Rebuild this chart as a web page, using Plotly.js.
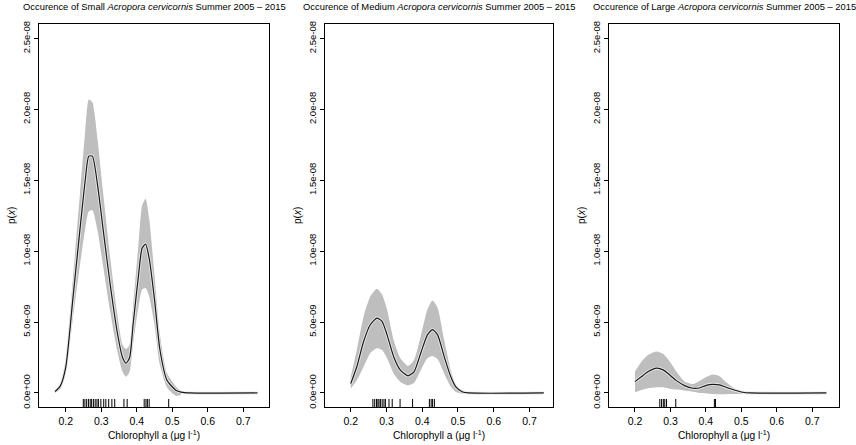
<!DOCTYPE html>
<html>
<head>
<meta charset="utf-8">
<script src="https://cdn.plot.ly/plotly-3.0.1.min.js"></script>
<style>html,body{margin:0;padding:0;background:#fff;}#chart{width:856px;height:445px;}</style>
</head>
<body>
<div id="chart"></div>
<script>
// ---------- Data ----------
const panelTitles = ["Small", "Medium", "Large"];

// Panel 1: Small
const x1 = [0.17,0.185,0.20,0.22,0.24,0.255,0.265,0.275,0.29,0.305,0.325,0.345,0.36,0.37,0.38,0.39,0.405,0.415,0.425,0.435,0.45,0.465,0.485,0.51,0.525];
const mean1 = [0.1e-9,0.5e-9,1.8e-9,6.6e-9,11.5e-9,15.0e-9,16.7e-9,16.7e-9,14.6e-9,11.6e-9,7.7e-9,4.3e-9,2.5e-9,2.1e-9,2.5e-9,4.9e-9,8.3e-9,10.2e-9,10.5e-9,9.5e-9,6.6e-9,3.1e-9,0.9e-9,0.2e-9,0.06e-9];
const upper1 = [0.2e-9,0.7e-9,2.3e-9,8.0e-9,14.0e-9,18.5e-9,20.7e-9,20.5e-9,17.8e-9,14.2e-9,9.6e-9,5.6e-9,3.4e-9,3.1e-9,3.4e-9,6.2e-9,10.5e-9,13.2e-9,13.7e-9,12.3e-9,8.3e-9,4.2e-9,1.4e-9,0.45e-9,0.1e-9];
const lower1 = [0.0,0.3e-9,1.4e-9,5.2e-9,9.0e-9,11.6e-9,12.8e-9,12.9e-9,11.4e-9,9.0e-9,5.8e-9,3.0e-9,1.5e-9,1.15e-9,1.5e-9,3.5e-9,6.1e-9,7.3e-9,7.4e-9,6.8e-9,4.8e-9,2.0e-9,0.4e-9,-0.2e-9,-0.15e-9];
const tailX1 = [0.55,0.74];
const tailY1 = [0,0];
const rug1 = [0.2495,0.254,0.259,0.264,0.269,0.273,0.278,0.283,0.288,0.292,0.299,0.307,0.313,0.321,0.330,0.338,0.364,0.373,0.421,0.426,0.430,0.435,0.490];

// Panel 2: Medium
const x2 = [0.2,0.217,0.236,0.2546,0.273,0.2875,0.3016,0.320,0.339,0.36,0.377,0.3957,0.4145,0.4286,0.443,0.4615,0.480,0.494,0.513];
const mean2 = [0.66e-9,1.85e-9,3.63e-9,4.81e-9,5.28e-9,5.05e-9,4.1e-9,2.56e-9,1.61e-9,1.21e-9,1.49e-9,2.80e-9,4.1e-9,4.46e-9,4.1e-9,2.56e-9,1.14e-9,0.43e-9,0.07e-9];
const upper2 = [1.14e-9,3.03e-9,5.4e-9,6.8e-9,7.35e-9,6.94e-9,5.88e-9,3.74e-9,2.44e-9,1.9e-9,2.32e-9,3.98e-9,5.88e-9,6.52e-9,6.0e-9,3.74e-9,1.6e-9,0.55e-9,0.08e-9];
const lower2 = [0.31e-9,0.9e-9,1.85e-9,2.8e-9,3.15e-9,3.03e-9,2.44e-9,1.37e-9,0.78e-9,0.55e-9,0.71e-9,1.6e-9,2.44e-9,2.6e-9,2.37e-9,1.37e-9,0.43e-9,0.07e-9,-0.06e-9];
const tailX2 = [0.53,0.74];
const tailY2 = [0,0];
const rug2 = [0.262,0.267,0.272,0.276,0.279,0.283,0.288,0.293,0.297,0.307,0.316,0.338,0.373,0.420,0.425,0.429,0.434];

// Panel 3: Large
const x3 = [0.2,0.2187,0.2374,0.2607,0.2794,0.298,0.3168,0.340,0.3636,0.382,0.401,0.4196,0.438,0.457,0.480,0.504];
const mean3 = [0.80e-9,1.16e-9,1.51e-9,1.75e-9,1.63e-9,1.27e-9,0.87e-9,0.52e-9,0.33e-9,0.35e-9,0.54e-9,0.61e-9,0.57e-9,0.40e-9,0.21e-9,0.05e-9];
const upper3 = [1.51e-9,2.22e-9,2.69e-9,2.93e-9,2.76e-9,2.22e-9,1.51e-9,0.80e-9,0.63e-9,0.85e-9,1.12e-9,1.30e-9,1.20e-9,0.75e-9,0.33e-9,0.03e-9];
const lower3 = [0.05e-9,0.21e-9,0.33e-9,0.40e-9,0.40e-9,0.30e-9,0.24e-9,0.17e-9,0.08e-9,0.0,-0.03e-9,-0.07e-9,-0.09e-9,-0.09e-9,-0.08e-9,-0.05e-9];
const tailX3 = [0.525,0.74];
const tailY3 = [0,0];
const rug3 = [0.270,0.275,0.280,0.284,0.289,0.315,0.424,0.427];

const xTickVals = [0.2,0.3,0.4,0.5,0.6,0.7];
const xTickText = ["0.2","0.3","0.4","0.5","0.6","0.7"];
const yTickVals = [0,5e-9,1e-8,1.5e-8,2e-8,2.5e-8];
const yTickText = ["0.0e+00","5.0e-09","1.0e-08","1.5e-08","2.0e-08","2.5e-08"];

// ---------- Build ----------
const W = 856, H = 445;
const boxes = [[39,269],[325,553],[609,839]];
const xRanges = [[0.1248,0.7724],[0.128,0.7658],[0.1267,0.7755]];
const yRange = [-0.99e-9, 2.602e-8];
const yDomain = [1 - 407/H, 1 - 24/H];
const FONT = "Liberation Sans, Arial, Helvetica, sans-serif";

const panels = [
  {x:x1, mean:mean1, up:upper1, lo:lower1, tx:tailX1, ty:tailY1, rug:rug1},
  {x:x2, mean:mean2, up:upper2, lo:lower2, tx:tailX2, ty:tailY2, rug:rug2},
  {x:x3, mean:mean3, up:upper3, lo:lower3, tx:tailX3, ty:tailY3, rug:rug3}
];

const traces = [];
const layout = {
  width: W, height: H,
  margin: {l:0, r:0, t:0, b:0},
  paper_bgcolor: "#fff", plot_bgcolor: "#fff",
  showlegend: false,
  font: {family: FONT, size: 10, color: "#000"},
  annotations: []
};

panels.forEach((p, i) => {
  const n = i + 1;
  const xa = n === 1 ? "x" : "x" + n;
  const ya = n === 1 ? "y" : "y" + n;
  // band
  traces.push({x:p.x, y:p.lo, xaxis:xa, yaxis:ya, mode:"lines", line:{width:0, shape:"spline", smoothing:0.6}, hoverinfo:"skip"});
  traces.push({x:p.x, y:p.up, xaxis:xa, yaxis:ya, mode:"lines", fill:"tonexty", fillcolor:"#bebebe", line:{width:0, shape:"spline", smoothing:0.6}, hoverinfo:"skip"});
  // mean curve
  traces.push({x:p.x.concat(p.tx), y:p.mean.concat(p.ty), xaxis:xa, yaxis:ya, mode:"lines", line:{color:"#e8e8e8", width:3, shape:"spline", smoothing:0.6}, hoverinfo:"skip"});
  traces.push({x:p.x.concat(p.tx), y:p.mean.concat(p.ty), xaxis:xa, yaxis:ya, mode:"lines", line:{color:"#1a1a1a", width:1.2, shape:"spline", smoothing:0.6}});
  // rug
  const rx = [], ry = [];
  const r0 = yRange[0], r1 = yRange[0] + 0.021 * (yRange[1] - yRange[0]);
  p.rug.forEach(v => { rx.push(v, v, null); ry.push(r0, r1, null); });
  traces.push({x:rx, y:ry, xaxis:xa, yaxis:ya, mode:"lines", line:{color:"#000", width:1}, hoverinfo:"skip"});

  const [bl, br] = boxes[i];
  layout["xaxis" + (n === 1 ? "" : n)] = {
    domain: [bl / W, br / W], anchor: ya, range: xRanges[i],
    showgrid:false, zeroline:false, showline:true, mirror:true, linecolor:"#000", linewidth:1,
    ticks:"outside", ticklen:4, tickcolor:"#000", tickwidth:1,
    tickmode:"array", tickvals:xTickVals, ticktext:xTickText,
    tickfont:{family:FONT, size:10.5, color:"#000"}, automargin:false
  };
  layout["yaxis" + (n === 1 ? "" : n)] = {
    domain: yDomain, anchor: xa, range: yRange,
    showgrid:false, zeroline:false, showline:true, mirror:true, linecolor:"#000", linewidth:1,
    ticks:"outside", ticklen:4, tickcolor:"#000", tickwidth:1,
    tickmode:"array", tickvals:yTickVals, ticktext:yTickText, tickangle:-90,
    tickfont:{family:FONT, size:9.5, color:"#000"}, automargin:false
  };
  const cx = (bl + br) / 2 / W;
  layout.annotations.push({
    xref:"paper", yref:"paper", x:cx, y:1 - 7/H, xanchor:"center", yanchor:"middle",
    text:"Occurence of " + panelTitles[i] + " <i>Acropora cervicornis</i> Summer 2005 \u2013 2015",
    showarrow:false, font:{family:FONT, size:9.4, color:"#000"}
  });
  layout.annotations.push({
    xref:"paper", yref:"paper", x:cx, y:1 - 435/H, xanchor:"center", yanchor:"middle",
    text:"Chlorophyll a (\u03bcg l<sup>-1</sup>)",
    showarrow:false, font:{family:FONT, size:10.2, color:"#000"}
  });
  layout.annotations.push({
    xref:"paper", yref:"paper", x:(bl - 27) / W, y:1 - 216/H, xanchor:"center", yanchor:"middle",
    text:"p(<i>x</i>)", textangle:-90,
    showarrow:false, font:{family:FONT, size:10, color:"#000"}
  });
});

Plotly.newPlot("chart", traces, layout, {staticPlot:true, displayModeBar:false});
</script>
</body>
</html>
